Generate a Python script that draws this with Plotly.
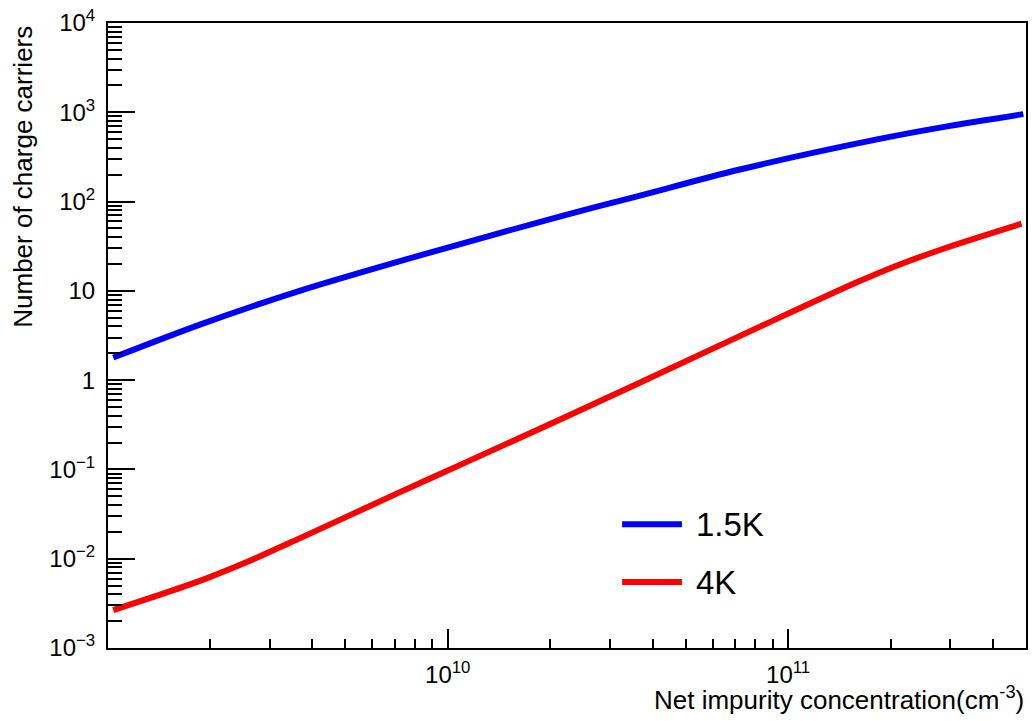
import numpy as np
import plotly.graph_objects as go

# Number of charge carriers vs. net impurity concentration at two temperatures
series_names = ["1.5K", "4K"]
series_colors = ["#0000ff", "#ff0000"]

conc_15K = [1.04e9, 1.87e9, 3.67e9, 8.24e9, 2.17e10, 3.65e10, 7.16e10, 1.84e11, 2.96e11, 4.91e11]
carriers_15K = [1.79, 4.19, 10.0, 24.8, 69.3, 116, 227, 500, 700, 953]

conc_4K = [1.04e9, 1.33e9, 1.87e9, 2.62e9, 3.67e9, 7.21e9, 1.08e10, 2.17e10, 3.65e10,
           8.77e10, 1.61e11, 2.11e11, 2.96e11, 4.85e11]
carriers_4K = [0.00265, 0.00362, 0.00565, 0.00948, 0.0169, 0.0553, 0.111, 0.372, 0.929,
               4.41, 12.7, 19.5, 31.0, 56.5]

x_major = [1e10, 1e11]
x_major_text = ["10<sup>10</sup>", "10<sup>11</sup>"]
y_major = [1e-3, 1e-2, 1e-1, 1, 10, 1e2, 1e3, 1e4]
y_major_text = ["10<sup>\u22123</sup>", "10<sup>\u22122</sup>", "10<sup>\u22121</sup>", "1", "10",
                "10<sup>2</sup>", "10<sup>3</sup>", "10<sup>4</sup>"]

FONT = "Liberation Sans, Arial, Helvetica, sans-serif"

x_minor = [m * 10.0 ** d for d in range(9, 12) for m in range(2, 10) if m * 10.0 ** d <= 5e11]
y_minor = [m * 10.0 ** d for d in range(-3, 4) for m in range(2, 10)]

fig = go.Figure()
for xs, ys, name, color in [(conc_15K, carriers_15K, series_names[0], series_colors[0]),
                            (conc_4K, carriers_4K, series_names[1], series_colors[1])]:
    fig.add_trace(go.Scatter(x=xs, y=ys, mode="lines", name=name,
                             line=dict(color=color, width=6, shape="spline", smoothing=0.8),
                             showlegend=False))

W, H = 1034, 721
L, R, T, B = 107.5, 6, 22, 73
pw, ph = W - L - R, H - T - B

fig.update_layout(
    width=W, height=H,
    margin=dict(l=L, r=R, t=T, b=B),
    paper_bgcolor="white", plot_bgcolor="white",
    font=dict(family=FONT, size=24, color="black"),
    xaxis=dict(type="log", range=[np.log10(1.004e9), np.log10(5e11)],
               tickmode="array", tickvals=x_major, ticktext=x_major_text,
               ticks="inside", ticklen=19, tickwidth=1.5, tickcolor="black",
               minor=dict(tickmode="array", tickvals=x_minor, ticks="inside",
                          ticklen=9.5, tickwidth=1.5, tickcolor="black", showgrid=False),
               showline=True, linecolor="black", linewidth=2, mirror=True,
               showgrid=False, zeroline=False, ticklabelstandoff=4,
               tickfont=dict(size=24)),
    yaxis=dict(type="log", range=[-3, 4],
               tickmode="array", tickvals=y_major, ticktext=y_major_text,
               ticks="inside", ticklen=27, tickwidth=1.5, tickcolor="black",
               minor=dict(tickmode="array", tickvals=y_minor, ticks="inside",
                          ticklen=13.5, tickwidth=1.5, tickcolor="black", showgrid=False),
               showline=True, linecolor="black", linewidth=2, mirror=True,
               showgrid=False, zeroline=False, ticklabelstandoff=6,
               tickfont=dict(size=24)),
)

# Axis titles placed at the far ends of the axes
fig.add_annotation(text="Number of charge carriers", textangle=-90,
                   xref="paper", yref="paper", x=(22 - L) / pw, y=1.0 - 1 / ph,
                   xanchor="center", yanchor="top", showarrow=False,
                   font=dict(size=26))
fig.add_annotation(text="Net impurity concentration(cm<sup>-3</sup>)",
                   xref="paper", yref="paper", x=1.0, y=(H - B - 699) / ph,
                   xanchor="right", yanchor="middle", showarrow=False,
                   font=dict(size=26))

# Legend drawn inside the frame
legend_rows = [524, 582]
for name, color, row in zip(series_names, series_colors, legend_rows):
    yp = (H - B - row) / ph
    fig.add_shape(type="line", xref="paper", yref="paper",
                  x0=(623 - L) / pw, x1=(683 - L) / pw, y0=yp, y1=yp,
                  line=dict(color=color, width=6))
    fig.add_annotation(text=name, xref="paper", yref="paper",
                       x=(695 - L) / pw, y=yp, xanchor="left", yanchor="middle",
                       showarrow=False, font=dict(size=33))

fig.write_html("out.html")
